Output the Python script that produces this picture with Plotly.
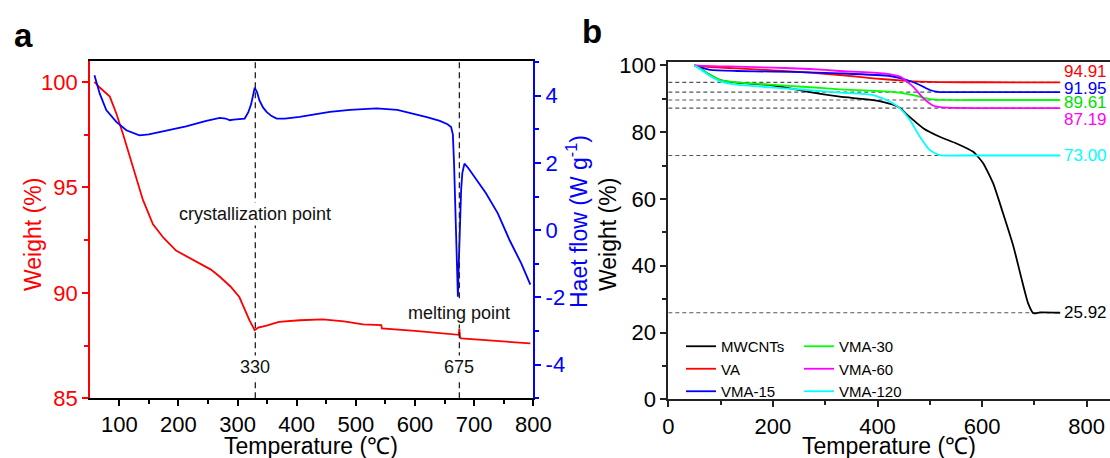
import plotly.graph_objects as go

# ---------------- Panel a data ----------------
tga_T = [58, 67, 84, 95, 106, 123, 140, 157, 175, 196, 215, 236, 255, 270, 288, 303, 312, 320, 329,
         335, 349, 370, 405, 444, 480, 512, 543, 544, 600, 650, 670, 674, 675, 676, 678, 720, 760, 795]
tga_W = [100, 99.73, 99.3, 98.5, 97.55, 95.97, 94.4, 93.25, 92.6, 92.0, 91.7, 91.4, 91.1, 90.76, 90.3,
         89.8, 89.18, 88.7, 88.23, 88.35, 88.45, 88.62, 88.7, 88.74, 88.65, 88.5, 88.47, 88.31, 88.2,
         88.08, 88.03, 88.01, 88.31, 87.9, 87.84, 87.75, 87.67, 87.6]

dsc_T = [58, 62, 67, 78, 95, 112, 134, 150, 168, 190, 213, 247, 270, 280, 287, 293, 298, 305, 312, 318,
         323, 329, 333, 337, 343, 349, 357, 366, 380, 405, 430, 456, 490, 535, 570, 596, 620, 642, 655,
         661, 664, 666, 668, 670, 672.5, 674, 676, 678, 680, 683.6, 690, 700, 720, 740, 760, 780, 795]
dsc_H = [4.61, 4.35, 4.06, 3.57, 3.22, 2.97, 2.82, 2.85, 2.92, 3.0, 3.09, 3.25, 3.34, 3.32, 3.27, 3.29,
         3.30, 3.31, 3.32, 3.5, 3.75, 4.24, 4.1, 3.86, 3.65, 3.52, 3.4, 3.32, 3.32, 3.37, 3.45, 3.52, 3.58,
         3.62, 3.58, 3.47, 3.36, 3.25, 3.15, 3.07, 2.85, 2.0, 0.9, -0.5, -1.98, -1.0, 0.2, 1.2, 1.7, 1.98,
         1.85, 1.6, 1.1, 0.5, -0.3, -1.0, -1.62]

event_T = [330, 675]
event_names = ["crystallization point", "melting point"]
heat_ticks = [-4, -2, 0, 2, 4]

# ---------------- Panel b data ----------------
samples = ["MWCNTs", "VA", "VMA-15", "VMA-30", "VMA-60", "VMA-120"]
colors = ["#000000", "#FF0000", "#0000FF", "#00FF00", "#FF00FF", "#00FFFF"]

mwcnt_T = [50, 65, 80, 99, 131, 194, 230, 265, 328, 392, 430, 443, 456, 488, 519, 551, 583, 602, 621,
           640, 660, 676, 688, 698, 711, 749]
mwcnt_W = [100, 98.6, 97.1, 95.6, 94.8, 94.1, 93.2, 92.1, 90.6, 89.6, 88.2, 87.2, 85.3, 81.1, 78.6, 76.6,
           74.1, 70.7, 64.7, 55.7, 45.7, 35.7, 28.7, 25.75, 26.0, 25.92]
va_T = [50, 70, 100, 131, 200, 270, 328, 392, 449, 480, 519, 600, 749]
va_W = [100, 99.6, 99.3, 99.1, 98.5, 97.8, 97.1, 96.1, 95.4, 95.1, 94.95, 94.92, 94.91]
vma15_T = [50, 65, 80, 131, 200, 270, 328, 424, 456, 481, 500, 519, 560, 749]
vma15_W = [100, 99.2, 98.6, 98.3, 98.1, 97.9, 97.6, 96.8, 95.6, 94.1, 92.6, 92.0, 91.95, 91.95]
vma30_T = [50, 65, 80, 99, 131, 194, 265, 328, 424, 468, 500, 532, 600, 749]
vma30_W = [100, 98.6, 97.1, 95.6, 94.9, 94.2, 93.5, 92.8, 92.1, 91.1, 89.9, 89.62, 89.61, 89.61]
vma60_T = [50, 70, 100, 131, 200, 270, 328, 411, 443, 468, 488, 507, 532, 600, 749]
vma60_W = [100, 99.8, 99.7, 99.6, 99.3, 98.9, 98.3, 97.6, 96.6, 93.6, 90.1, 87.9, 87.3, 87.2, 87.19]
vma120_T = [50, 65, 80, 99, 131, 194, 265, 328, 392, 424, 443, 462, 481, 500, 519, 560, 749]
vma120_W = [100, 98.4, 96.8, 95.2, 94.2, 93.4, 92.6, 91.8, 91.1, 89.1, 87.1, 83.6, 78.6, 74.6, 73.1,
            73.0, 73.0]

series_T = [mwcnt_T, va_T, vma15_T, vma30_T, vma60_T, vma120_T]
series_W = [mwcnt_W, va_W, vma15_W, vma30_W, vma60_W, vma120_W]

residual = [94.91, 91.95, 89.61, 87.19, 73.00, 25.92]
residual_colors = ["#FF0000", "#0000FF", "#00E000", "#FF00FF", "#00FFFF", "#000000"]
residual_label_y = [98.0, 93.1, 88.9, 83.8, 73.0, 25.92]
end_T = 750

FONT = "Liberation Sans, Arial, sans-serif"
W, H = 1110, 458
OFF = 0  # body margin removed in the page


def sx(px):
    return (px - OFF) / W


def sy(py):
    return 1 - (py - OFF) / H


fig = go.Figure()

# Panel a traces
fig.add_trace(go.Scatter(x=tga_T, y=tga_W, mode="lines", line=dict(color="#FF0000", width=1.8),
                         xaxis="x", yaxis="y", showlegend=False))
fig.add_trace(go.Scatter(x=dsc_T, y=dsc_H, mode="lines", line=dict(color="#0000FF", width=1.8),
                         xaxis="x", yaxis="y2", showlegend=False))

# Panel b traces
for i, (name, c, tx, wy) in enumerate(zip(samples, colors, series_T, series_W)):
    fig.add_trace(go.Scatter(x=tx, y=wy, mode="lines", name=name,
                             line=dict(color=c, width=1.8, shape="spline", smoothing=0.5),
                             xaxis="x2", yaxis="y3", legend="legend" if i < 3 else "legend2"))

shapes = []
annotations = []


def ann(**kw):
    base = dict(showarrow=False, xanchor="center", yanchor="middle")
    base.update(kw)
    annotations.append(base)


# dashed event lines panel a
for t in event_T:
    shapes.append(dict(type="line", xref="x", yref="y domain", x0=t, x1=t, y0=0, y1=1,
                       line=dict(color="#222222", width=1.3, dash="6px,4px"), layer="above"))
AF = dict(size=18, color="#111111", family=FONT)
ann(x=event_T[0], y=93.73, xref="x", yref="y", text=event_names[0], font=AF, bgcolor="white")
ann(x=event_T[1], y=89.04, xref="x", yref="y", text=event_names[1], font=AF, bgcolor="white")
for t in event_T:
    ann(x=t, y=86.48, xref="x", yref="y", text=str(t), font=AF, bgcolor="white")

# dashed residual lines panel b
for v in residual:
    shapes.append(dict(type="line", xref="x2", yref="y3", x0=0, x1=end_T, y0=v, y1=v,
                       line=dict(color="#555555", width=1.2, dash="4px,3px"), layer="below"))
for v, c, ly in zip(residual, residual_colors, residual_label_y):
    ann(x=752, y=ly, xref="x2", yref="y3", text=f"{v:.2f}", xanchor="left",
        font=dict(size=17, color=c, family=FONT))

# panel letters
ann(x=sx(23), y=sy(36), xref="paper", yref="paper", text="<b>a</b>",
    font=dict(size=33, color="black", family=FONT))
ann(x=sx(592), y=sy(32), xref="paper", yref="paper", text="<b>b</b>",
    font=dict(size=33, color="black", family=FONT))

# axis titles
TS = 23
ann(x=sx(311), y=sy(446), xref="paper", yref="paper", text="Temperature (℃)",
    font=dict(size=TS, color="black", family=FONT))
ann(x=sx(889), y=sy(446), xref="paper", yref="paper", text="Temperature (℃)",
    font=dict(size=TS, color="black", family=FONT))
ann(x=sx(33), y=sy(235), xref="paper", yref="paper", text="Weight (%)", textangle=-90,
    font=dict(size=TS, color="#FF0000", family=FONT))
ann(x=sx(577), y=sy(222), xref="paper", yref="paper", text="Haet flow (W g<sup>-1</sup>)", textangle=-90,
    font=dict(size=TS, color="#0000FF", family=FONT))
ann(x=sx(608), y=sy(235), xref="paper", yref="paper", text="Weight (%)", textangle=-90,
    font=dict(size=TS, color="black", family=FONT))

ax_common = dict(showgrid=False, zeroline=False, ticks="outside", ticklen=6, tickwidth=1.5,
                 automargin=False)

fig.update_layout(
    width=W, height=H,
    margin=dict(l=0, r=0, t=0, b=0, autoexpand=False),
    paper_bgcolor="white", plot_bgcolor="white",
    font=dict(family=FONT, color="black"),
    xaxis=dict(domain=[sx(90), sx(533.3)], range=[50.5, 800], dtick=100, tick0=0,
               showline=True, linecolor="black", linewidth=1.5, mirror=True,
               tickfont=dict(size=22, color="black"), tickcolor="black",
               minor=dict(ticks="outside", ticklen=4, dtick=100, tick0=50, tickcolor="black"),
               anchor="y", **ax_common),
    yaxis=dict(domain=[sy(398.3), sy(60.7)], range=[85, 101], dtick=5, tick0=85,
               showline=True, linecolor="#FF0000", linewidth=1.8,
               tickfont=dict(size=22, color="#FF0000"), tickcolor="#FF0000",
               minor=dict(ticks="outside", ticklen=4, dtick=5, tick0=87.5, tickcolor="#FF0000"),
               anchor="x", **ax_common),
    yaxis2=dict(overlaying="y", side="right", range=[-5.0, 5.04],
                tickmode="array", tickvals=heat_ticks, ticktext=[str(v) for v in heat_ticks],
                showline=True, linecolor="#0000FF", linewidth=1.8,
                tickfont=dict(size=22, color="#0000FF"), tickcolor="#0000FF",
                minor=dict(ticks="outside", ticklen=4, dtick=2, tick0=1, tickcolor="#0000FF"),
                anchor="x", **ax_common),
    xaxis2=dict(domain=[sx(668.3), 1.0], range=[0, 844.5], dtick=200, tick0=0,
                showline=True, linecolor="#222222", linewidth=1.8, mirror=True,
                tickfont=dict(size=22, color="black"), tickcolor="#222222",
                minor=dict(ticks="outside", ticklen=4, dtick=200, tick0=100, tickcolor="#222222"),
                anchor="y3", **ax_common),
    yaxis3=dict(domain=[sy(399.3), sy(62.3)], range=[0, 100.9], dtick=20, tick0=0,
                showline=True, linecolor="#222222", linewidth=1.8,
                tickfont=dict(size=22, color="black"), tickcolor="#222222",
                minor=dict(ticks="outside", ticklen=4, dtick=20, tick0=10, tickcolor="#222222"),
                anchor="x2", **ax_common),
    legend=dict(x=sx(681), y=sy(330), xanchor="left", yanchor="top", bgcolor="rgba(0,0,0,0)",
                font=dict(size=15, color="black", family=FONT), itemwidth=30, tracegroupgap=0),
    legend2=dict(x=sx(799), y=sy(330), xanchor="left", yanchor="top", bgcolor="rgba(0,0,0,0)",
                 font=dict(size=15, color="black", family=FONT), itemwidth=30, tracegroupgap=0),
    shapes=shapes,
    annotations=annotations,
)

fig.write_html(
    "out.html",
    config={"displayModeBar": False},
    post_script="document.body.style.margin='0px';document.body.style.overflow='hidden';",
)
